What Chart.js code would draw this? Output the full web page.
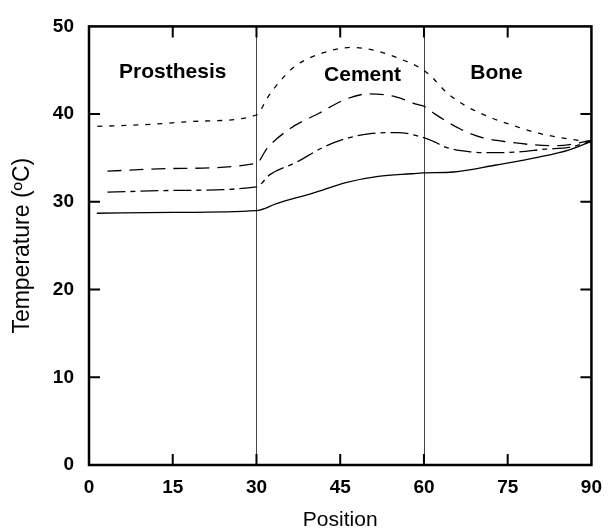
<!DOCTYPE html>
<html>
<head>
<meta charset="utf-8">
<script src="https://cdn.jsdelivr.net/npm/chart.js@4.4.1/dist/chart.umd.min.js"></script>
<style>
  html, body { margin: 0; padding: 0; background: #fff; }
  #wrap { width: 613px; height: 529px; position: relative; }
</style>
</head>
<body>
<div id="wrap"><canvas id="tempChart"></canvas></div>
<script>
// x ticks / y ticks
const xTicks = [0, 15, 30, 45, 60, 75, 90];
const yTicks = [0, 10, 20, 30, 40, 50];

// short dashes (top curve)
const posA = [1.5, 10, 20, 30, 32, 34, 37, 42, 47, 51, 55.3, 59.5, 61.3, 64, 67.6, 72, 76, 80, 84.7, 90];
const tempA = [38.6, 38.8, 39.2, 39.9, 41.9, 43.6, 45.5, 47.0, 47.6, 47.3, 46.4, 45.2, 44.3, 42.5, 40.9, 39.6, 38.7, 37.9, 37.3, 36.8];

// long dashes
const posB = [3.3, 15, 30, 31.9, 35.9, 41.2, 46, 50, 54.8, 58.8, 60, 62, 66.5, 70.6, 75.3, 79.8, 84, 90];
const tempB = [33.5, 33.8, 34.4, 36.1, 38.3, 40.1, 41.7, 42.3, 42.0, 41.1, 40.9, 40.0, 38.3, 37.3, 36.8, 36.5, 36.4, 37.0];

// dash-dot
const posC = [3.3, 15, 30, 32.4, 37.1, 41.9, 46, 50.7, 55.3, 59.5, 62, 64, 68.3, 72.9, 77, 81.7, 85.9, 90];
const tempC = [31.1, 31.3, 31.7, 33.1, 34.5, 36.2, 37.2, 37.8, 37.9, 37.4, 36.8, 36.2, 35.7, 35.6, 35.7, 36.0, 36.2, 36.9];

// solid
const posD = [1.4, 15, 30, 33.6, 40.1, 46, 51.8, 57.7, 60, 65.3, 72.9, 80.6, 85.9, 90];
const tempD = [28.7, 28.8, 29.0, 29.8, 31.0, 32.2, 32.9, 33.2, 33.3, 33.4, 34.2, 35.1, 35.9, 36.9];

// region boundaries and names
const boundaries = [30, 60];
const regionNames = ['Prosthesis', 'Cement', 'Bone'];
const regionAt = [[15, 44.8], [49, 44.4], [73, 44.7]];

function pts(xs, ys) {
  return xs.map((x, i) => ({ x: x, y: ys[i] }));
}

function curve(xs, ys, dash) {
  return {
    data: pts(xs, ys),
    borderColor: '#000',
    borderWidth: 1.3,
    borderDash: dash,
    pointRadius: 0,
    fill: false,
    cubicInterpolationMode: 'monotone'
  };
}

// frame, inward ticks, boundaries, region names
const framePlugin = {
  id: 'frame',
  beforeDatasetsDraw(chart) {
    const { ctx, chartArea: a, scales: { x } } = chart;
    ctx.save();
    ctx.strokeStyle = '#444';
    ctx.lineWidth = 1;
    boundaries.forEach(b => {
      const px = Math.round(x.getPixelForValue(b)) + 0.5;
      ctx.beginPath();
      ctx.moveTo(px, a.top);
      ctx.lineTo(px, a.bottom);
      ctx.stroke();
    });
    ctx.restore();
  },
  afterDraw(chart) {
    const { ctx, chartArea: a, scales: { x, y } } = chart;
    const len = 11;
    ctx.save();
    ctx.strokeStyle = '#000';
    ctx.lineWidth = 2.5;
    ctx.strokeRect(a.left, a.top, a.right - a.left, a.bottom - a.top);
    ctx.lineWidth = 2;
    ctx.beginPath();
    xTicks.slice(1, -1).forEach(v => {
      const px = x.getPixelForValue(v);
      ctx.moveTo(px, a.bottom); ctx.lineTo(px, a.bottom - len);
      ctx.moveTo(px, a.top); ctx.lineTo(px, a.top + len);
    });
    yTicks.slice(1, -1).forEach(v => {
      const py = y.getPixelForValue(v);
      ctx.moveTo(a.left, py); ctx.lineTo(a.left + len, py);
      ctx.moveTo(a.right, py); ctx.lineTo(a.right - len, py);
    });
    ctx.stroke();

    ctx.fillStyle = '#000';
    ctx.font = 'bold 21px "Liberation Sans", Arial, sans-serif';
    ctx.textAlign = 'center';
    ctx.textBaseline = 'middle';
    regionNames.forEach((name, i) => {
      ctx.fillText(name, x.getPixelForValue(regionAt[i][0]), y.getPixelForValue(regionAt[i][1]));
    });
    ctx.restore();
  }
};

const tickFont = { family: '"Liberation Sans", Arial, sans-serif', size: 19, weight: 'bold' };

new Chart(document.getElementById('tempChart').getContext('2d'), {
  type: 'line',
  data: {
    datasets: [
      curve(posA, tempA, [5, 7]),
      curve(posB, tempB, [14, 8]),
      curve(posC, tempC, [18, 5, 5, 5]),
      curve(posD, tempD, [])
    ]
  },
  options: {
    responsive: true,
    maintainAspectRatio: false,
    animation: false,
    layout: { padding: { left: 0, right: 13, top: 19, bottom: 0 } },
    plugins: { legend: { display: false }, tooltip: { enabled: false } },
    scales: {
      x: {
        type: 'linear',
        min: 0, max: 90,
        afterBuildTicks: s => { s.ticks = xTicks.map(v => ({ value: v })); },
        afterFit: s => { s.height = 64; },
        grid: { display: false, drawTicks: false },
        border: { display: false },
        ticks: { color: '#000', font: tickFont, padding: 11, maxRotation: 0 },
        title: {
          display: true, text: 'Position', color: '#000',
          font: { family: '"Liberation Sans", Arial, sans-serif', size: 21 },
          padding: { top: 0, bottom: -4 }
        }
      },
      y: {
        type: 'linear',
        min: 0, max: 50,
        afterBuildTicks: s => { s.ticks = yTicks.map(v => ({ value: v })); },
        afterFit: s => { s.width = 89; },
        grid: { display: false, drawTicks: false },
        border: { display: false },
        ticks: { color: '#000', font: tickFont, padding: 15 },
        title: {
          display: true, text: 'Temperature (ºC)', color: '#000',
          font: { family: '"Liberation Sans", Arial, sans-serif', size: 23 },
          padding: { top: 9, bottom: 0 }
        }
      }
    }
  },
  plugins: [framePlugin]
});
</script>
</body>
</html>
